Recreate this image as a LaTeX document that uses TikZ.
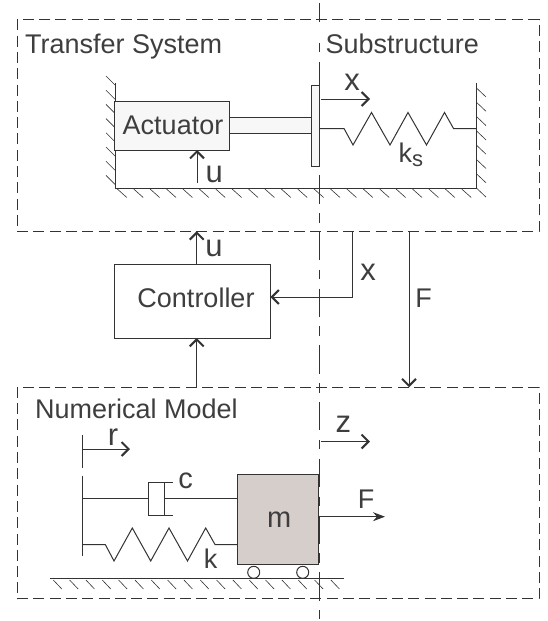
\documentclass[tikz,border=0pt]{standalone}
\usepackage{fontspec}
\setmainfont{Liberation Sans}
\usetikzlibrary{arrows.meta}
\definecolor{ink}{HTML}{333333}
\definecolor{txt}{HTML}{3E3E40}
\definecolor{massfill}{HTML}{D6CECB}
\definecolor{partfill}{HTML}{F7F7F7}
\tikzset{
  line/.style={draw=ink, line width=1pt},
  hatch/.style={draw=ink, line width=0.6pt},
  region/.style={draw=ink, line width=1pt, dash pattern=on 11pt off 5.3pt, minimum width=522pt, minimum height=211.5pt, inner sep=0pt, outer sep=0pt},
  block/.style={draw=ink, line width=1pt, inner sep=0pt, outer sep=0pt, text=txt},
  label/.style={text=txt, inner sep=0pt, anchor=base},
  biglabel/.style={label, font=\fontsize{31}{34}\selectfont},
  barb/.style={line, -{Straight Barb[length=7pt,width=14pt,line width=2pt]}},
  roller/.style={circle, draw=ink, line width=1pt, fill=white, inner sep=0pt, minimum size=12pt},
}
\begin{document}
\begin{tikzpicture}[x=1pt, y=-1pt, every node/.style={font=\fontsize{27}{30}\selectfont}]
  \useasboundingbox (0,0) rectangle (547,621);
  % dashed regions and the split line
  \coordinate (splittop) at (319,3);
  \coordinate (splitend) at (319,22);
  \coordinate (splitnext) at (319,42.9);
  \coordinate (splitbot) at (319,621);
  \draw[line] (splittop) -- (splitend);
  \draw[line, dash pattern=on 9.5pt off 9.5pt on 28.3pt off 9.4pt] (splitnext) -- (splitbot);
  \node[region] (transfer) at (278,125.5) {};
  \node[region] (numeric) at (278,493) {};
  \node[label, anchor=base west] (transferlab) at (25,53) {Transfer System};
  \node[label, anchor=base west] (sublab) at (325.5,53) {Substructure};
  \node[label, anchor=base west] (numlab) at (35,418) {Numerical Model};
  % transfer system
  \coordinate (wallltop) at (115,83);
  \coordinate (floorl) at (115,188.5);
  \coordinate (floorr) at (476.5,188.5);
  \coordinate (wallrtop) at (476.5,83);
  \draw[line] (wallltop) -- (floorl) -- (floorr) -- (wallrtop);
  \foreach \i in {0,...,7}
    \draw[hatch] (106,76+14.2*\i) -- ++(9,9);
  \foreach \i in {0,...,7}
    \draw[hatch] (476.5,88+14.3*\i) -- ++(9.5,9);
  \foreach \i in {0,...,21}
    \draw[hatch] (117.3+16.4*\i,189) -- ++(9.5,8.5);
  \node[block, fill=partfill, minimum width=114.5pt, minimum height=49pt] (actuator) at (172.2,125.5) {\hspace*{1.6pt}Actuator};
  \node[block, fill=partfill, minimum width=8pt, minimum height=81pt] (plate) at (315,125.5) {};
  \node[block, fill=partfill, anchor=west, minimum width=82pt, minimum height=16.5pt] (rod) at (actuator.east) {};
  \draw[line] (plate.east |- 0,128.5) -- (344,128.5) -- (353,145) -- (371.5,112.5) -- (390,145) -- (408,112.5)
    -- (426.5,145) -- (444.5,112.5) -- (453.5,128.5) -- (floorr |- 0,128.5);
  \coordinate (xstart) at (321,99);
  \coordinate (xend) at (370,99);
  \draw[barb] (xstart) -- (xend);
  \node[biglabel] (xlab) at (352,90) {x};
  \node[label, anchor=base west] (kslab) at (398.5,162.7) {k\raisebox{-4pt}{\fontsize{22}{24}\selectfont s}};
  \coordinate (ubase) at (197,183);
  \draw[barb] (ubase) -- (ubase |- actuator.south);
  \node[biglabel] (ulab) at (214.3,182.7) {u};
  % controller
  \node[block, text depth=6pt, minimum width=155.5pt, minimum height=74pt] (controller) at (192.7,301) {\hspace*{6.6pt}Controller};
  \coordinate (uout) at (196.7,264);
  \coordinate (uin) at (196.7,387);
  \coordinate (xtap) at (352,231);
  \coordinate (xturn) at (352,297);
  \coordinate (ftap) at (409,231);
  \draw[barb] (uout) -- (uout |- transfer.south);
  \draw[barb] (uin) -- (uin |- controller.south);
  \draw[barb] (xtap) -- (xturn) -- (xturn -| controller.east);
  \draw[barb] (ftap) -- (ftap |- numeric.north);
  \node[biglabel] (uoutlab) at (214,256) {u};
  \node[biglabel] (xoutlab) at (368,280.7) {x};
  \node[label] (foutlab) at (423.7,307.7) {F};
  % numerical model
  \coordinate (rtop) at (82.5,435);
  \coordinate (rbot) at (82.5,468);
  \coordinate (rmid) at (82.5,449);
  \coordinate (rend) at (130,449);
  \coordinate (baseltop) at (82.5,475.7);
  \coordinate (baselbot) at (82.5,556);
  \draw[line] (rtop) -- (rbot);
  \draw[barb] (rmid) -- (rend);
  \draw[line] (baseltop) -- (baselbot);
  \node[biglabel] (rlab) at (113,445) {r};
  \node[block, fill=massfill, font=\fontsize{29}{32}\selectfont, minimum width=81.5pt, minimum height=90pt] (mass) at (278.2,519.2) {\hspace*{2pt}m};
  \draw[line] (baseltop |- 0,498.5) -- (148,498.5);
  \draw[line] (173,482.3) -- (148,482.3) -- (148,515) -- (173,515);
  \draw[line] (164.5,482.3) -- (164.5,515);
  \draw[line] (164.5,498.5) -- (mass.west |- 0,498.5);
  \draw[line] (baseltop |- 0,544.5) -- (105.3,544.5) -- (114,561) -- (132.3,528) -- (150.7,561) -- (169,528)
    -- (187.5,561) -- (205.7,528) -- (215,544.5) -- (mass.west |- 0,544.5);
  \node[label, font=\fontsize{29}{32}\selectfont] (clab) at (185.7,488.3) {c};
  \node[label] (klab) at (210.5,568.3) {k};
  \coordinate (groundl) at (50,578.7);
  \coordinate (groundr) at (344,578.7);
  \draw[line] (groundl) -- (groundr);
  \foreach \i in {0,...,17}
    \draw[hatch] (53.3+16.33*\i,580) -- ++(8.5,9);
  \node[roller] (rollera) at (253.7,572.3) {};
  \node[roller] (rollerb) at (302.7,572.3) {};
  \coordinate (zstart) at (321,441.5);
  \coordinate (zend) at (370,441.5);
  \draw[barb] (zstart) -- (zend);
  \node[biglabel] (zlab) at (343.3,432.7) {z};
  \coordinate (fend) at (385,516.7);
  \draw[line, -{Stealth[length=12pt,width=9pt]}] (mass.east |- fend) -- (fend);
  \node[label] (flab) at (366,508.3) {F};
\end{tikzpicture}
\end{document}
